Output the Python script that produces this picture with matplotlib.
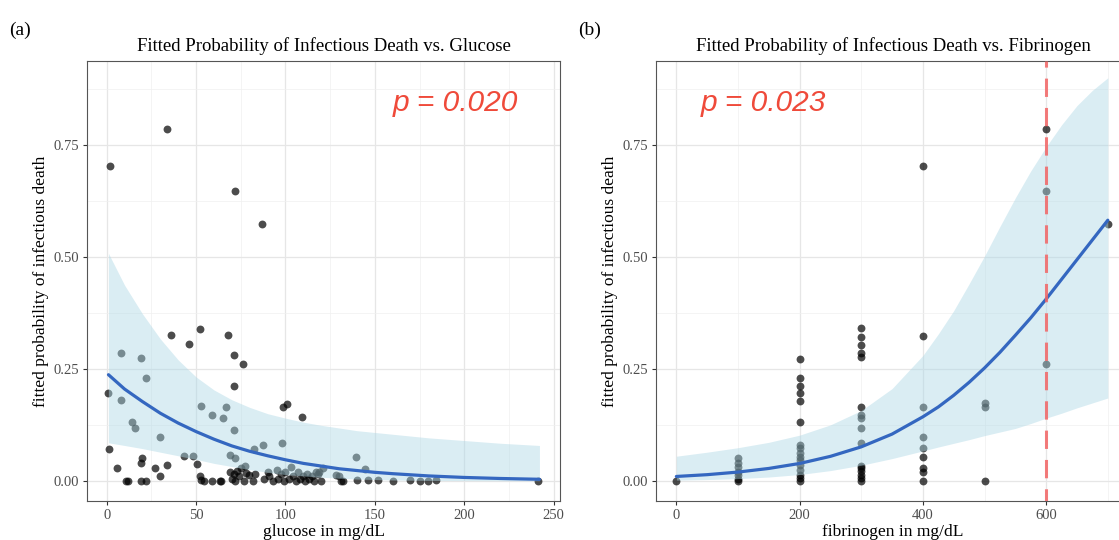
import matplotlib
matplotlib.use("Agg")
import matplotlib.pyplot as plt
from matplotlib.ticker import MultipleLocator

# ---------------- data ----------------
# panel (a): per-patient fitted probabilities vs glucose
glu_x = [2, 34, 72, 87,
         1, 8, 8, 19, 22, 14, 16, 30, 36, 46, 52, 68, 71, 76, 71, 53, 59, 65, 67, 71,
         98.5, 101, 109, 97.8, 87.6, 82.6, 69, 71.7, 77.6, 43, 48, 50.7, 1.3, 5.9,
         19, 20, 26.9, 30, 33.9, 139.5, 144.5,
         11, 12, 19, 22, 52, 53, 54.6, 59, 63.3, 64, 69, 70, 71, 72, 73, 74, 75,
         76.7, 78, 79.6, 81.8, 83, 88, 90, 91, 93, 95, 96, 97.6, 99, 100, 102, 103,
         104, 106, 107, 108, 110, 111, 112, 113, 115, 116, 117, 118, 119, 120, 121,
         128, 130, 131, 132, 140, 146, 152, 160, 169.5, 175, 179.5, 184, 241]
glu_y = [0.703, 0.786, 0.647, 0.574,
         0.197, 0.285, 0.180, 0.275, 0.230, 0.131, 0.119, 0.099, 0.325, 0.305, 0.340,
         0.325, 0.280, 0.260, 0.212, 0.167, 0.147, 0.141, 0.166, 0.114,
         0.166, 0.172, 0.143, 0.084, 0.081, 0.071, 0.058, 0.050, 0.034, 0.055, 0.055,
         0.037, 0.071, 0.028,
         0.040, 0.050, 0.028, 0.011, 0.036, 0.054, 0.027,
         0.0, 0.0, 0.0, 0.0, 0.010, 0.003, 0.0, 0.0, 0.0, 0.0, 0.020, 0.005, 0.015,
         0.0, 0.022, 0.010, 0.028,
         0.0, 0.018, 0.012, 0.0, 0.015, 0.005, 0.020, 0.010, 0.0, 0.025, 0.005, 0.015,
         0.0, 0.020, 0.005, 0.030,
         0.010, 0.0, 0.020, 0.005, 0.010, 0.0, 0.015, 0.005, 0.010, 0.0, 0.020, 0.015,
         0.020, 0.0, 0.028,
         0.012, 0.010, 0.0, 0.0, 0.002, 0.002, 0.002, 0.0, 0.002, 0.0, 0.0, 0.001, 0.0]

# fitted logistic curve and confidence band
glu_grid = [1, 10, 20, 30, 40, 50, 60, 70, 80, 90, 100, 110, 120, 130, 140, 150,
            160, 180, 200, 220, 242]
glu_fit = [0.237, 0.205, 0.177, 0.151, 0.129, 0.110, 0.093, 0.078, 0.066, 0.056,
           0.047, 0.039, 0.033, 0.027, 0.023, 0.019, 0.016, 0.011, 0.0076, 0.0053,
           0.0035]
glu_upper = [0.508, 0.437, 0.373, 0.317, 0.270, 0.232, 0.203, 0.181, 0.164, 0.150,
             0.140, 0.131, 0.124, 0.118, 0.112, 0.108, 0.104, 0.096, 0.090, 0.084,
             0.079]
glu_lower = [0.085, 0.079, 0.072, 0.064, 0.056, 0.048, 0.039, 0.032, 0.025, 0.019,
             0.014, 0.011, 0.008, 0.006, 0.004, 0.003, 0.002, 0.001, 0.0006, 0.0003,
             0.0001]

# panel (b): per-patient fitted probabilities vs fibrinogen
fib_x = ([0] +
         [100] * 7 +
         [200] * 16 +
         [300] * 16 +
         [400] * 9 +
         [500] * 3 +
         [600] * 3 +
         [700])
fib_y = ([0.0] +
         [0.050, 0.040, 0.030, 0.020, 0.013, 0.005, 0.0] +
         [0.273, 0.229, 0.212, 0.196, 0.179, 0.132, 0.080, 0.073, 0.062, 0.054,
          0.047, 0.036, 0.025, 0.013, 0.006, 0.0] +
         [0.341, 0.322, 0.304, 0.285, 0.277, 0.164, 0.147, 0.140, 0.117, 0.085,
          0.033, 0.028, 0.021, 0.013, 0.006, 0.0] +
         [0.702, 0.324, 0.166, 0.099, 0.073, 0.054, 0.028, 0.019, 0.0] +
         [0.173, 0.164, 0.0] +
         [0.786, 0.647, 0.261] +
         [0.574])

fib_grid = [0, 50, 100, 150, 200, 250, 300, 350, 400, 425, 450, 475, 500, 525,
            550, 575, 600, 625, 650, 675, 700]
fib_fit = [0.0098, 0.0138, 0.0196, 0.0277, 0.0388, 0.0547, 0.0759, 0.1044, 0.143,
           0.165, 0.191, 0.220, 0.252, 0.287, 0.325, 0.364, 0.406, 0.450, 0.494,
           0.538, 0.582]
fib_upper = [0.055, 0.064, 0.074, 0.086, 0.102, 0.125, 0.157, 0.206, 0.280, 0.328,
             0.380, 0.440, 0.502, 0.568, 0.632, 0.692, 0.746, 0.795, 0.838, 0.872,
             0.900]
fib_lower = [0.0017, 0.0029, 0.0050, 0.0085, 0.0141, 0.0229, 0.0348, 0.0497, 0.0668,
             0.0755, 0.0838, 0.092, 0.101, 0.109, 0.117, 0.128, 0.140, 0.151, 0.163,
             0.174, 0.185]

y_ticks = [0.0, 0.25, 0.5, 0.75]
y_ticklabels = ["0.00", "0.25", "0.50", "0.75"]
glu_ticks = [0, 50, 100, 150, 200, 250]
fib_ticks = [0, 200, 400, 600]
cutoff = 600

titles = ["Fitted Probability of Infectious Death vs. Glucose",
          "Fitted Probability of Infectious Death vs. Fibrinogen"]
xlabels = ["glucose in mg/dL", "fibrinogen in mg/dL"]
ylabel = "fitted probability of infectious death"
ptexts = ["p = 0.020", "p = 0.023"]
panels = ["(a)", "(b)"]

# ---------------- style ----------------
SERIF = ["Liberation Serif", "DejaVu Serif"]
RIBBON = "#add8e6"
LINE = "#3467c0"
RED = "#ef4a3a"
W, H = 1119, 540

fig = plt.figure(figsize=(W / 100, H / 100), dpi=100)
fig.patch.set_facecolor("white")


def px_axes(l, t, r, b):
    return [l / W, 1 - b / H, (r - l) / W, (b - t) / H]


ax_a = fig.add_axes(px_axes(87, 61, 560, 501))
ax_b = fig.add_axes(px_axes(656, 61, 1130, 501))


def style(ax, xlim, xticks, xminor):
    ax.set_xlim(*xlim)
    ax.set_ylim(-0.045, 0.9375)
    ax.set_xticks(xticks)
    ax.xaxis.set_minor_locator(MultipleLocator(xminor))
    ax.set_yticks(y_ticks)
    ax.set_yticklabels(y_ticklabels)
    ax.yaxis.set_minor_locator(MultipleLocator(0.125))
    ax.grid(which="major", color="#e6e6e6", lw=0.9, zorder=0)
    ax.grid(which="minor", color="#f0f0f0", lw=0.5, zorder=0)
    ax.set_axisbelow(True)
    for s in ax.spines.values():
        s.set_color("#555555")
        s.set_linewidth(0.8)
    ax.tick_params(which="major", length=3, width=0.8, color="#333333",
                   labelcolor="#4d4d4d", labelsize=10.5, pad=3)
    ax.tick_params(which="minor", length=0)
    for lab in ax.get_xticklabels() + ax.get_yticklabels():
        lab.set_family(SERIF)


style(ax_a, (-11, 253.5), glu_ticks, 25)
style(ax_b, (-33, 736), fib_ticks, 100)

# panel (a)
ax_a.scatter(glu_x, glu_y, s=32, color="black", alpha=0.7, lw=0, zorder=2)
ax_a.fill_between(glu_grid, glu_lower, glu_upper, color=RIBBON, alpha=0.45,
                  lw=0, zorder=3)
ax_a.plot(glu_grid, glu_fit, color=LINE, lw=2.3, zorder=4, solid_capstyle="round")

# panel (b)
ax_b.scatter(fib_x, fib_y, s=32, color="black", alpha=0.7, lw=0, zorder=2)
ax_b.fill_between(fib_grid, fib_lower, fib_upper, color=RIBBON, alpha=0.45,
                  lw=0, zorder=3)
ax_b.plot(fib_grid, fib_fit, color=LINE, lw=2.3, zorder=4, solid_capstyle="round")
ax_b.axvline(cutoff, color="#f26565", alpha=0.85, lw=2.2,
             linestyle=(2, (6, 3.6)), zorder=5)

for ax, title, xl, pt, px in zip([ax_a, ax_b], titles, xlabels, ptexts,
                                 [0.778, 0.226]):
    ax.set_title(title, family=SERIF, fontsize=13.5, color="black", pad=7)
    ax.set_xlabel(xl, family=SERIF, fontsize=12.5, color="black", labelpad=1)
    ax.set_ylabel(ylabel, family=SERIF, fontsize=12.5, color="black", labelpad=3)
    ax.text(px, 0.905, pt, transform=ax.transAxes, ha="center", va="center",
            fontsize=21.5, style="italic", color=RED,
            family=["Liberation Sans", "DejaVu Sans"])

fig.text(9 / W, 1 - 30 / H, panels[0], family=SERIF, fontsize=14,
         ha="left", va="center")
fig.text(578 / W, 1 - 30 / H, panels[1], family=SERIF, fontsize=14,
         ha="left", va="center")

fig.savefig("out.png", dpi=100, facecolor="white")
